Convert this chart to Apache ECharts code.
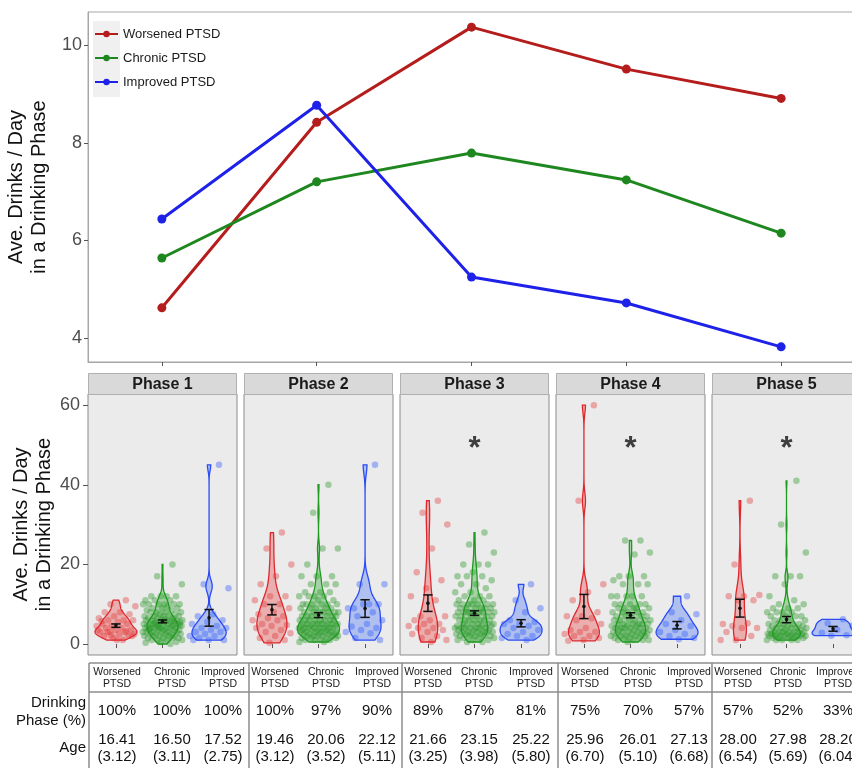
<!DOCTYPE html>
<html>
<head>
<meta charset="utf-8">
<script src="https://cdn.jsdelivr.net/npm/echarts@6/dist/echarts.min.js"></script>
<style>
  html, body { margin: 0; padding: 0; background: #fff; }
  #main { width: 852px; height: 768px; }
</style>
</head>
<body>
<div id="main"></div>
<script>
// ---- data ----
const groups = ['Worsened PTSD', 'Chronic PTSD', 'Improved PTSD'];
const phases = ['Phase 1', 'Phase 2', 'Phase 3', 'Phase 4', 'Phase 5'];
const phaseX = [1, 2, 3, 4, 5];

// top chart: average drinks / day per phase
const meanWorsened = [4.62, 8.42, 10.37, 9.51, 8.91];
const meanChronic = [5.64, 7.20, 7.79, 7.24, 6.15];
const meanImproved = [6.44, 8.77, 5.25, 4.72, 3.82];
const topTicks = [4, 6, 8, 10];
const bottomTicks = [0, 20, 40, 60];

// per-person values shown in the violins
const p1Worsened = [11, 10, 9.5, 8, 8, 7.5, 7, 6.5, 6, 6, 6, 5.5, 5, 5, 4.5, 4.5, 4, 4, 3.5, 3.5, 3, 3, 3, 2.5, 2.5, 2, 2, 1.5, 3.5, 1, 3, 2, 1, 5.8, 3.2, 2.2];
const p1Chronic = [20, 17, 15, 12, 12, 12, 12, 11, 11, 11, 10, 10, 10, 10, 10, 10, 9.5, 9, 9, 9, 8.5, 8.5, 8, 8, 8, 8, 7.5, 7.5, 7, 7, 7, 7, 7, 6.5, 6.5, 6.5, 6, 6, 6, 6, 6, 6, 5.5, 5.5, 5.5, 5.5, 5, 5, 5, 5, 5, 5, 5, 4.5, 4.5, 4.5, 4.5, 4.5, 4, 4, 4, 4, 4, 4, 4, 3.5, 3.5, 3.5, 3.5, 3.5, 3, 3, 3, 3, 3, 3, 2.5, 2.5, 2.5, 2.5, 2.5, 2, 2, 2, 2, 2, 1.5, 1.5, 1.5, 1.5, 1, 1, 1, 1, 0.5, 0.5, 0.3, 0, 5.2, 4.8, 6.2, 3.8, 5.8, 4.2];
const p1Improved = [45, 15, 14, 7.5, 7, 6, 5.5, 5, 4.5, 4, 4, 3.5, 3, 3, 2.5, 2, 2, 1.5, 1, 1, 1];

const p2Worsened = [28, 24, 20, 17, 15, 12, 12, 11, 10, 10, 9, 8, 7.5, 7, 6.5, 6, 6, 5, 4.8, 4.5, 4, 3.5, 3, 2.7, 2, 1.5, 1, 0.3];
const p2Chronic = [40, 33, 24, 24, 20, 17, 17, 17, 15, 15, 15, 13, 13, 13, 12, 12, 12, 12, 11, 11, 10, 10, 10, 10, 10, 10, 9, 9, 9, 9, 9, 8, 8, 8, 8, 8, 8, 8, 7, 7, 7, 7, 7, 7, 7, 6, 6, 6, 6, 6, 6, 6, 6, 5, 5, 5, 5, 5, 5, 5, 5, 5, 4.5, 4.5, 4.5, 4.5, 4, 4, 4, 4, 4, 4, 4, 4, 3.5, 3.5, 3.5, 3.5, 3, 3, 3, 3, 3, 3, 3, 2.5, 2.5, 2.5, 2.5, 2.5, 2, 2, 2, 2, 2, 2, 1.5, 1.5, 1.5, 1.5, 1, 1, 1, 1, 0.5, 0.5];
const p2Improved = [45, 15, 15, 10, 9, 10, 10, 9, 8, 7, 6, 5, 4.4, 4, 3.5, 3, 2.7, 1.5, 1];

const p3Worsened = [36, 33, 30, 24, 18, 16, 14, 12, 11, 7, 7, 6, 6, 5, 5, 4.5, 4, 4, 3.5, 3, 2.5, 2, 1.5, 1, 0.5];
const p3Chronic = [28, 25, 23, 20, 20, 20, 18, 17, 17, 17, 16, 15, 15, 14, 13, 13, 12, 12, 12, 11, 11, 11, 10, 10, 10, 10, 10, 10, 10, 9, 9, 9, 9, 9, 9, 8, 8, 8, 8, 8, 8, 8, 8, 8, 7, 7, 7, 7, 7, 7, 6, 6, 6, 6, 6, 6, 6, 5, 5, 5, 5, 5, 4.5, 4.5, 4.5, 4.5, 4, 4, 4, 4, 4, 4, 4, 3.5, 3.5, 3.5, 3, 3, 3, 3, 3, 3, 2.5, 2.5, 2.5, 2.5, 2, 2, 2, 2, 2, 1.5, 1.5, 1.5, 1, 1, 1, 0.5, 0.5];
const p3Improved = [15, 11, 9, 8, 6, 5.5, 5, 5, 4.5, 4, 3.5, 3, 2.5, 2, 2, 1.5, 1];

const p4Worsened = [60, 36, 15, 13, 11, 8, 7, 7, 6.5, 6, 5, 4, 3.5, 3, 3, 2.5, 2, 2, 1.5, 1, 0.8];
const p4Chronic = [26, 26, 23, 22.5, 17, 17, 17, 16, 15, 15, 15, 12, 12, 12, 12, 12, 9, 10, 10, 10, 10, 10, 9, 9, 9, 9, 8, 8, 8, 8, 8, 7, 7, 7, 7, 7, 6, 6, 6, 6, 6, 6, 5, 5, 5, 5, 5, 5, 4.5, 4.5, 4.5, 4, 4, 4, 4, 4, 4, 3.5, 3.5, 3.5, 3, 3, 3, 3, 3, 2.5, 2.5, 2.5, 2.5, 2, 2, 2, 2, 2, 1.5, 1.5, 1.5, 1.5, 1, 1, 1, 1, 0.5];
const p4Improved = [12, 8, 7.5, 6, 5, 4.5, 3.5, 3, 2.5, 2, 1.5, 1.2];

const p5Worsened = [36, 20, 12.3, 12, 12, 11, 11, 5, 5.2, 4.5, 4, 4, 3, 2, 1, 1];
const p5Chronic = [41, 30, 23, 17, 17, 17, 15, 12, 11, 10, 10, 9, 9, 9, 8, 8, 8, 8, 7, 7, 7, 7, 6, 6, 6, 6, 5, 5, 5, 5, 5, 4.5, 4.5, 4.5, 4, 4, 4, 4, 4, 3.5, 3.5, 3.5, 3, 3, 3, 3, 3, 3, 3, 2.5, 2.5, 2.5, 2.5, 2.5, 2.5, 2, 2, 2, 2, 2, 2, 2, 2, 1.5, 1.5, 1.5, 1.5, 1.5, 1, 1, 1, 1, 1];
const p5Improved = [6.2, 5.2, 4.6, 3.6, 2.8, 2.2, 2.1];

const sigPhases = [3, 4, 5];

// table below the violins
const drinkingPct = [
  ['100%', '100%', '100%'],
  ['100%', '97%', '90%'],
  ['89%', '87%', '81%'],
  ['75%', '70%', '57%'],
  ['57%', '52%', '33%']
];
const ageMean = [
  ['16.41', '16.50', '17.52'],
  ['19.46', '20.06', '22.12'],
  ['21.66', '23.15', '25.22'],
  ['25.96', '26.01', '27.13'],
  ['28.00', '27.98', '28.20']
];
const ageSd = [
  ['(3.12)', '(3.11)', '(2.75)'],
  ['(3.12)', '(3.52)', '(5.11)'],
  ['(3.25)', '(3.98)', '(5.80)'],
  ['(6.70)', '(5.10)', '(6.68)'],
  ['(6.54)', '(5.69)', '(6.04)']
];

// ---- layout / style ----
const FONT = '"Liberation Sans", Arial, sans-serif';
const lineColors = ['#B51C1C', '#1F871F', '#1E22E8'];
const violinLine = ['#E0262C', '#1E9A1E', '#2A4BF5'];
const violinFill = ['rgba(232,60,60,0.35)', 'rgba(40,160,40,0.35)', 'rgba(60,110,250,0.35)'];
const pointColor = ['rgba(226,60,60,0.5)', 'rgba(40,150,40,0.5)', 'rgba(50,90,250,0.5)'];
const panelLeft = 88, panelStep = 156, panelW = 149, panelTop = 394, panelH = 261;
const stripTop = 373, stripH = 21;
const starY = 51;
const tableTop = 663, tableHeadBottom = 692;
const tableVLines = [89, 249, 402, 558, 712];
const colCenters = [[117, 172, 223], [275, 326, 377], [428, 479, 531], [585, 638, 689], [738, 788, 838]];

const phaseData = [
  [p1Worsened, p1Chronic, p1Improved],
  [p2Worsened, p2Chronic, p2Improved],
  [p3Worsened, p3Chronic, p3Improved],
  [p4Worsened, p4Chronic, p4Improved],
  [p5Worsened, p5Chronic, p5Improved]
];

// kernel density (gaussian, nrd0 bandwidth, trimmed), like ggplot's violin
function violinStats(vals) {
  const n = vals.length;
  const s = vals.slice().sort((a, b) => a - b);
  const mean = s.reduce((a, b) => a + b, 0) / n;
  const sd = Math.sqrt(s.reduce((a, v) => a + (v - mean) * (v - mean), 0) / (n - 1));
  const q = p => {
    const h = (n - 1) * p, lo = Math.floor(h);
    const hi = Math.min(lo + 1, n - 1);
    return s[lo] + (h - lo) * (s[hi] - s[lo]);
  };
  let spread = Math.min(sd, (q(0.75) - q(0.25)) / 1.34);
  if (!(spread > 0)) spread = sd || 1;
  const bw = 0.9 * spread * Math.pow(n, -0.2);
  const steps = 160, dens = [];
  let maxD = 0;
  for (let i = 0; i <= steps; i++) {
    const y = s[0] + (s[n - 1] - s[0]) * i / steps;
    let d = 0;
    for (const v of s) { const z = (y - v) / bw; d += Math.exp(-0.5 * z * z); }
    d /= n * bw * Math.sqrt(2 * Math.PI);
    maxD = Math.max(maxD, d);
    dens.push([y, d]);
  }
  return { dens, maxD, mean, se: sd / Math.sqrt(n) };
}

const stats = phaseData.map(list => list.map(violinStats));
const panelMax = stats.map(list => Math.max(...list.map(st => st.maxD)));

const jit = i => (((i + 1) * 0.6180339887 + 0.13) % 1 - 0.5) * 0.86;

const myChart = echarts.init(document.getElementById('main'));

const grids = [{ left: 88, top: 12, width: 767, height: 350, show: true, borderColor: '#a6a6a6', borderWidth: 1, backgroundColor: '#fff', outerBoundsMode: 'none' }];
const xAxes = [{
  gridIndex: 0, type: 'value', min: 0.523, max: 5.477,
  axisLine: { show: true, lineStyle: { color: '#a6a6a6', width: 1 } },
  axisTick: { show: true, customValues: phaseX, length: 4, lineStyle: { color: '#555' } },
  axisLabel: { show: false }, splitLine: { show: false }
}];
const yAxes = [{
  gridIndex: 0, type: 'value', min: 3.51, max: 10.68,
  axisLine: { show: true, lineStyle: { color: '#a6a6a6', width: 1 } },
  axisTick: { show: true, customValues: topTicks, length: 4, lineStyle: { color: '#555' } },
  axisLabel: { customValues: topTicks, fontSize: 18, color: '#4d4d4d', margin: 6, fontFamily: FONT },
  splitLine: { show: false },
  name: 'Ave. Drinks / Day\nin a Drinking Phase', nameLocation: 'middle', nameGap: 30, nameRotate: 90,
  nameTextStyle: { fontSize: 20, color: '#111', lineHeight: 23, fontFamily: FONT }
}];

const series = [
  { name: groups[0], data: meanWorsened },
  { name: groups[1], data: meanChronic },
  { name: groups[2], data: meanImproved }
].map((s, g) => ({
  name: s.name, type: 'line', xAxisIndex: 0, yAxisIndex: 0,
  data: s.data.map((v, i) => [phaseX[i], v]),
  symbol: 'circle', symbolSize: 9,
  lineStyle: { width: 3, color: lineColors[g] },
  itemStyle: { color: lineColors[g] },
  z: 3
}));

const graphics = [
  { type: 'rect', z: 1, shape: { x: 93, y: 21, width: 27, height: 76 }, style: { fill: '#f0f0f0' } }
];

phases.forEach((ph, k) => {
  const ax = k + 1;
  const left = panelLeft + k * panelStep;
  grids.push({ left: left, top: panelTop, width: panelW, height: panelH, show: true, backgroundColor: '#ebebeb', borderColor: '#8c8c8c', borderWidth: 1, outerBoundsMode: 'none' });
  xAxes.push({
    gridIndex: ax, type: 'value', min: 0.4, max: 3.6,
    axisLine: { show: false },
    axisTick: { show: true, customValues: [1, 2, 3], length: 4, lineStyle: { color: '#555' } },
    axisLabel: { show: false }, splitLine: { show: false }
  });
  const yAx = {
    gridIndex: ax, type: 'value', min: -2.76, max: 62.8,
    axisLine: { show: false }, splitLine: { show: false },
    axisTick: { show: k === 0, customValues: bottomTicks, length: 5, lineStyle: { color: '#555' } },
    axisLabel: { show: k === 0, customValues: bottomTicks, fontSize: 18, color: '#4d4d4d', margin: 8, fontFamily: FONT }
  };
  if (k === 0) {
    Object.assign(yAx, {
      name: 'Ave. Drinks / Day\nin a Drinking Phase', nameLocation: 'middle', nameGap: 30, nameRotate: 90,
      nameTextStyle: { fontSize: 20, color: '#111', lineHeight: 23, fontFamily: FONT }
    });
  }
  yAxes.push(yAx);

  // jittered points
  phaseData[k].forEach((vals, g) => {
    series.push({
      type: 'scatter', xAxisIndex: ax, yAxisIndex: ax, silent: true,
      data: vals.map((v, i) => [g + 1 + jit(i), v]),
      symbolSize: 6.5, itemStyle: { color: pointColor[g] }, z: 2
    });
  });

  // violins
  series.push({
    type: 'custom', xAxisIndex: ax, yAxisIndex: ax, silent: true, z: 3,
    data: stats[k].map((st, g) => [g + 1, st.mean]),
    renderItem: function (params, api) {
      const g = api.value(0) - 1;
      const st = stats[k][g];
      const right = [], leftSide = [];
      st.dens.forEach(([y, d]) => {
        const hw = 0.45 * d / panelMax[k];
        right.push(api.coord([g + 1 + hw, y]));
        leftSide.push(api.coord([g + 1 - hw, y]));
      });
      return {
        type: 'polygon',
        shape: { points: right.concat(leftSide.reverse()) },
        style: { fill: violinFill[g], stroke: violinLine[g], lineWidth: 1.3 }
      };
    }
  });

  // mean +/- SE
  series.push({
    type: 'custom', xAxisIndex: ax, yAxisIndex: ax, silent: true, z: 4,
    data: stats[k].map((st, g) => [g + 1, st.mean]),
    renderItem: function (params, api) {
      const g = api.value(0) - 1;
      const st = stats[k][g];
      const x = g + 1, cw = 0.1;
      const hi = st.mean + st.se, lo = st.mean - st.se;
      const t = api.coord([x, hi]), b = api.coord([x, lo]);
      const tl = api.coord([x - cw, hi]), tr = api.coord([x + cw, hi]);
      const bl = api.coord([x - cw, lo]), br = api.coord([x + cw, lo]);
      const m = api.coord([x, st.mean]);
      const ls = { stroke: '#111', lineWidth: 1.5 };
      return {
        type: 'group',
        children: [
          { type: 'line', shape: { x1: t[0], y1: t[1], x2: b[0], y2: b[1] }, style: ls },
          { type: 'line', shape: { x1: tl[0], y1: tl[1], x2: tr[0], y2: tr[1] }, style: ls },
          { type: 'line', shape: { x1: bl[0], y1: bl[1], x2: br[0], y2: br[1] }, style: ls },
          { type: 'circle', shape: { cx: m[0], cy: m[1], r: 1.8 }, style: { fill: '#111' } }
        ]
      };
    }
  });

  if (sigPhases.indexOf(k + 1) >= 0) {
    series.push({
      type: 'scatter', xAxisIndex: ax, yAxisIndex: ax, silent: true, z: 5,
      data: [[2, starY]], symbolSize: 0,
      label: { show: true, formatter: '*', position: 'inside', fontSize: 31, fontWeight: 'bold', color: '#111', fontFamily: FONT, offset: [0, 8] }
    });
  }

  // strip
  graphics.push({ type: 'rect', shape: { x: left + 0.5, y: stripTop + 0.5, width: panelW - 1, height: stripH }, style: { fill: '#d9d9d9', stroke: '#b0b0b0', lineWidth: 1 } });
  graphics.push({ type: 'text', style: { text: ph, x: left + panelW / 2, y: stripTop + stripH / 2 + 1, align: 'center', verticalAlign: 'middle', font: 'bold 16px ' + FONT, fill: '#1a1a1a' } });

  // table columns
  colCenters[k].forEach((cx, g) => {
    const parts = groups[g].split(' ');
    graphics.push({ type: 'text', style: { text: parts[0], x: cx, y: 672, align: 'center', verticalAlign: 'middle', font: '10.5px ' + FONT, fill: '#1a1a1a' } });
    graphics.push({ type: 'text', style: { text: parts[1], x: cx, y: 684, align: 'center', verticalAlign: 'middle', font: '10.5px ' + FONT, fill: '#1a1a1a' } });
    graphics.push({ type: 'text', style: { text: drinkingPct[k][g], x: cx, y: 711, align: 'center', verticalAlign: 'middle', font: '15px ' + FONT, fill: '#111' } });
    graphics.push({ type: 'text', style: { text: ageMean[k][g], x: cx, y: 740, align: 'center', verticalAlign: 'middle', font: '15px ' + FONT, fill: '#111' } });
    graphics.push({ type: 'text', style: { text: ageSd[k][g], x: cx, y: 757, align: 'center', verticalAlign: 'middle', font: '15px ' + FONT, fill: '#111' } });
  });
});

// table lines and row labels
const tblLine = { stroke: '#8c8c8c', lineWidth: 1.5 };
graphics.push({ type: 'line', shape: { x1: 89, y1: tableTop, x2: 852, y2: tableTop }, style: tblLine });
graphics.push({ type: 'line', shape: { x1: 89, y1: tableHeadBottom, x2: 852, y2: tableHeadBottom }, style: tblLine });
tableVLines.forEach(x => {
  graphics.push({ type: 'line', shape: { x1: x, y1: tableTop, x2: x, y2: 768 }, style: tblLine });
});
[['Drinking', 703], ['Phase (%)', 721], ['Age', 748]].forEach(([t, y]) => {
  graphics.push({ type: 'text', style: { text: t, x: 86, y: y, align: 'right', verticalAlign: 'middle', font: '15px ' + FONT, fill: '#111' } });
});

const option = {
  animation: false,
  textStyle: { fontFamily: FONT },
  grid: grids,
  xAxis: xAxes,
  yAxis: yAxes,
  legend: {
    data: groups, orient: 'vertical', left: 94, top: 27, padding: 0,
    itemWidth: 23, itemHeight: 8, itemGap: 10,
    lineStyle: { width: 2 },
    textStyle: { fontSize: 13, color: '#1a1a1a', lineHeight: 14, fontFamily: FONT },
    selectedMode: false
  },
  series: series,
  graphic: graphics
};
myChart.setOption(option);
</script>
</body>
</html>
